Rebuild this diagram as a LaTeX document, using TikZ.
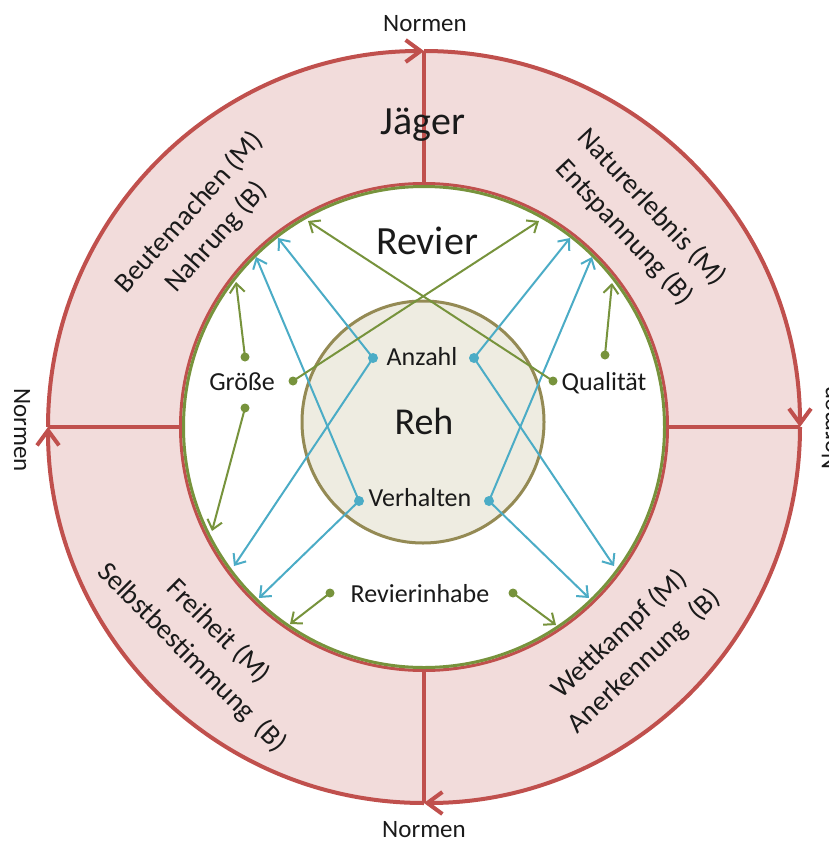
\documentclass[tikz,border=0pt]{standalone}
\usepackage{fontspec}
\setmainfont{Carlito}
\usetikzlibrary{arrows.meta}

\definecolor{ringred}{HTML}{C0504D}
\definecolor{ringpink}{HTML}{F2DCDB}
\definecolor{revgreen}{HTML}{77933C}
\definecolor{rehfill}{HTML}{EEECE1}
\definecolor{rehline}{HTML}{948A54}
\definecolor{linkblue}{HTML}{4BACC6}
\definecolor{labelink}{HTML}{1A1A1A}

\tikzset{
  spoke/.style={draw=ringred, line width=4pt},
  cycleline/.style={draw=ringred, line width=4pt,
    -{Straight Barb[length=15pt,width=22pt]}},
  bluelink/.style={draw=linkblue, line width=2pt,
    -{Straight Barb[length=9pt,width=15pt]}},
  greenlink/.style={draw=revgreen, line width=2pt,
    -{Straight Barb[length=9pt,width=15pt]}},
  ringlabel/.style={font=\fontsize{28}{37}\selectfont, align=center,
    inner sep=0pt, text=labelink},
  smalllabel/.style={font=\fontsize{26}{30}\selectfont, inner sep=0pt,
    anchor=base, text=labelink},
  biglabel/.style={font=\fontsize{40}{46}\selectfont, inner sep=0pt,
    anchor=base, text=labelink},
  normlabel/.style={font=\fontsize{25}{30}\selectfont, inner sep=0pt,
    text=labelink},
}

\begin{document}
\begin{tikzpicture}[x=1pt,y=-1pt]
\useasboundingbox (0,0) rectangle (828,843);

\coordinate (C) at (424,427);
\coordinate (R) at (423,422);

% pink ring of the hunter and white hunting ground
\fill[ringpink, even odd rule] (C) circle[radius=376] (C) circle[radius=242];
\fill[white] (C) circle[radius=242];

% four spokes across the ring
\coordinate (inT) at (424,185);  \coordinate (outT) at (424,51);
\coordinate (inB) at (424,669);  \coordinate (outB) at (424,803);
\coordinate (inL) at (182,427);  \coordinate (outL) at (48,427);
\coordinate (inR) at (666,427);  \coordinate (outR) at (800,427);
\draw[spoke] (inT) -- (outT);
\draw[spoke] (inB) -- (outB);
\draw[spoke] (inL) -- (outL);
\draw[spoke] (inR) -- (outR);

% outer circle, running clockwise
\draw[cycleline] (outL) arc[start angle=180, end angle=270, radius=376];
\draw[cycleline] (outT) arc[start angle=270, end angle=360, radius=376];
\draw[cycleline] (outR) arc[start angle=0, end angle=90, radius=376];
\draw[cycleline] (outB) arc[start angle=90, end angle=180, radius=376];

% border of the hunting ground
\draw[ringred, line width=3pt] (C) circle[radius=243.5];
\draw[revgreen, line width=3pt] (C) circle[radius=240.5];

% the deer
\draw[rehline, fill=rehfill, line width=3pt] (R) circle[radius=121];

% start points of the links
\coordinate (aL) at (373,358);  \coordinate (aR) at (474,358);
\coordinate (vL) at (359,501);  \coordinate (vR) at (489,501);
\coordinate (gT) at (245,357);  \coordinate (gB) at (245,408);
\coordinate (gR) at (293,381);
\coordinate (qT) at (605,355);  \coordinate (qL) at (553,381);
\coordinate (rL) at (330,593);  \coordinate (rR) at (513,593);

% end points on the border
\coordinate (t1) at (278,238);  \coordinate (t2) at (234,566);
\coordinate (t3) at (256,257);  \coordinate (t4) at (259,598);
\coordinate (t5) at (570,238);  \coordinate (t6) at (614,566);
\coordinate (t7) at (592,257);  \coordinate (t8) at (589,598);
\coordinate (g1) at (236,282);  \coordinate (g2) at (212,531);
\coordinate (g3) at (539,221);  \coordinate (q1) at (612,283);
\coordinate (q2) at (308,221);
\coordinate (r1) at (290,624);  \coordinate (r2) at (556,625);

% links of the deer
\draw[bluelink] (aL) -- (t1);
\draw[bluelink] (aL) -- (t2);
\draw[bluelink] (vL) -- (t3);
\draw[bluelink] (vL) -- (t4);
\draw[bluelink] (aR) -- (t5);
\draw[bluelink] (aR) -- (t6);
\draw[bluelink] (vR) -- (t7);
\draw[bluelink] (vR) -- (t8);
\foreach \p in {aL,aR,vL,vR} \fill[linkblue] (\p) circle[radius=5];

% links of the hunting ground
\draw[greenlink] (gT) -- (g1);
\draw[greenlink] (gB) -- (g2);
\draw[greenlink] (gR) -- (g3);
\draw[greenlink] (qT) -- (q1);
\draw[greenlink] (qL) -- (q2);
\draw[greenlink] (rL) -- (r1);
\draw[greenlink] (rR) -- (r2);
\foreach \p in {gT,gB,gR,qT,qL,rL,rR} \fill[revgreen] (\p) circle[radius=4.5];

% titles
\node[biglabel] (jaeger) at (423,134) {Jäger};
\node[biglabel] (revier) at (427,254) {Revier};
\node[biglabel, font=\fontsize{38}{44}\selectfont] (reh) at (424,434) {Reh};

% labels inside the hunting ground
\node[smalllabel] (anzahl) at (422,365) {Anzahl};
\node[smalllabel] (verhalten) at (420,506) {Verhalten};
\node[smalllabel] (groesse) at (242,390) {Größe};
\node[smalllabel] (qualitaet) at (604,390) {Qualität};
\node[smalllabel] (inhabe) at (420,602) {Revierinhabe};

% motives and needs in the ring
\node[ringlabel, rotate=48] (beute) at (203,225) {Beutemachen (M)\\Nahrung (B)};
\node[ringlabel, rotate=-47] (natur) at (638,220) {Naturerlebnis (M)\\Entspannung (B)};
\node[ringlabel, rotate=-45] (frei) at (205,645) {Freiheit (M)\\Selbstbestimmung\ \ (B)};
\node[ringlabel, rotate=43] (wett) at (632,648) {Wettkampf (M)\\Anerkennung\ \ (B)};

% norms around the cycle
\node[normlabel, anchor=base] (normT) at (425,32) {Normen};
\node[normlabel, anchor=base] (normB) at (424,837) {Normen};
\node[normlabel, rotate=-90] (normL) at (22,430) {Normen};
\node[normlabel, rotate=90] (normR) at (830,428) {Normen};
\end{tikzpicture}
\end{document}
